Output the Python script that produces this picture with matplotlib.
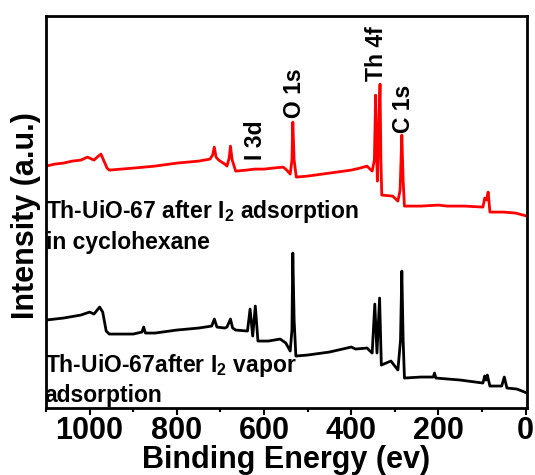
import matplotlib
matplotlib.use("Agg")
import matplotlib.pyplot as plt
from matplotlib.ticker import MultipleLocator

plt.rcParams['font.family'] = ['Liberation Sans', 'DejaVu Sans']
plt.rcParams['font.weight'] = 'bold'
plt.rcParams['mathtext.fontset'] = 'custom'
plt.rcParams['mathtext.rm'] = 'Liberation Sans:bold'
plt.rcParams['mathtext.bf'] = 'Liberation Sans:bold'
plt.rcParams['mathtext.it'] = 'Liberation Sans:bold:italic'

# Binding energy (eV) and intensity (a.u.) for the two spectra
be_solution = [1100, 1080, 1060, 1040, 1020, 1005, 1000, 990, 980, 974, 968, 960, 955,
               900, 850, 800, 750, 724, 718, 714, 710, 704, 690, 685, 680, 677, 673,
               665, 640, 622, 600, 580, 556, 548, 540, 536, 534, 531, 526, 500, 450,
               400, 380, 364, 352, 347, 344, 342, 340, 337, 334, 332, 330, 305, 293,
               288, 284, 281, 278, 240, 200, 180, 140, 98, 94, 90, 86, 82, 50, 23, -3]
int_solution = [242, 244, 245, 247, 248, 251, 250, 248, 252, 254, 248, 240, 238,
                240, 242, 245, 247, 249, 253, 261, 251, 248, 244, 242, 250, 262, 248,
                237, 238, 239, 239, 240, 241, 238, 234, 248, 286, 248, 231, 232, 235,
                238, 240, 242, 237, 248, 313, 258, 227, 278, 324, 248, 213, 212, 207,
                218, 273, 228, 202, 202, 203, 202, 202, 201, 210, 208, 216, 196, 196, 195, 192]

be_vapor = [1100, 1060, 1020, 1000, 990, 977, 970, 962, 955, 900, 880, 876, 872, 850,
            800, 750, 720, 714, 708, 690, 685, 677, 672, 665, 638, 632, 626, 620, 614,
            590, 563, 550, 540, 536, 534, 531, 527, 500, 450, 400, 390, 364, 352, 346,
            341, 335, 331, 320, 309, 293, 287, 284, 281, 278, 240, 212, 209, 206, 150,
            98, 94, 91, 88, 82, 55, 49, 43, 20, -3]
int_vapor = [88, 90, 93, 96, 94, 101, 96, 77, 74, 74, 76, 81, 75, 75,
             78, 80, 82, 89, 81, 80, 81, 89, 80, 78, 77, 99, 72, 102, 67,
             67, 69, 65, 57, 78, 155, 88, 52, 53, 56, 61, 59, 60, 55, 104,
             55, 110, 43, 45, 47, 38, 68, 137, 68, 30, 31, 31, 35, 30, 28,
             25, 32, 28, 33, 22, 22, 31, 20, 19, 15]

peak_labels = ["I 3d", "O 1s", "Th 4f", "C 1s"]
peak_label_be = [620, 531, 341, 281]
peak_label_y = [248, 290, 327, 275]

xticks = [1000, 800, 600, 400, 200, 0]

fig = plt.figure(figsize=(5.35, 4.75), dpi=100)
ax = fig.add_axes([0.086, 0.141, 0.899, 0.825])

ax.plot(be_solution, int_solution, color='#ff0000', lw=2)
ax.plot(be_vapor, int_vapor, color='black', lw=2)

for lab, x, y in zip(peak_labels, peak_label_be, peak_label_y):
    ax.text(x, y, lab, rotation=90, ha='center', va='bottom', fontsize=16.5,
            fontweight='bold')

ax.text(1099, 190, r"Th-UiO-67 after I$_\mathbf{2}$ adsorption", fontsize=16.5,
        fontweight='bold', ha='left', va='baseline')
ax.text(1099, 159, "in cyclohexane", fontsize=16.5, fontweight='bold',
        ha='left', va='baseline')
ax.text(1103, 36, r"Th-UiO-67after I$_\mathbf{2}$ vapor", fontsize=16.5,
        fontweight='bold', ha='left', va='baseline')
ax.text(1103, 6, "adsorption", fontsize=16.5, fontweight='bold',
        ha='left', va='baseline')

ax.set_xlim(1100, -3)
ax.set_ylim(0, 392)
ax.set_xticks(xticks)
ax.xaxis.set_minor_locator(MultipleLocator(100))
ax.set_yticks([])
ax.tick_params(axis='x', which='major', direction='out', length=5, width=1.5,
               labelsize=22, pad=1)
ax.tick_params(axis='x', which='minor', direction='out', length=3, width=1.5)
for lbl in ax.get_xticklabels():
    lbl.set_fontweight('bold')
for sp in ax.spines.values():
    sp.set_linewidth(2)

ax.set_xlabel("Binding Energy (ev)", fontsize=22, fontweight='bold', labelpad=-1)
ax.set_ylabel("Intensity (a.u.)", fontsize=22, fontweight='bold')
ax.yaxis.set_label_coords(-0.01, 0.49)

fig.savefig("out.png", dpi=100)
